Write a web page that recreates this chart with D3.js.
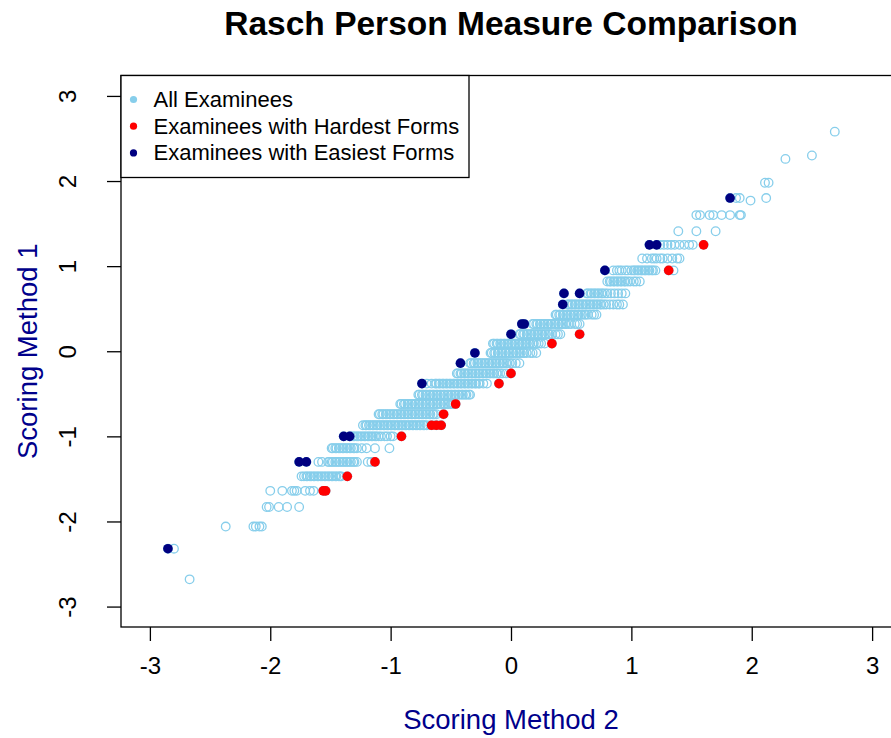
<!DOCTYPE html>
<html>
<head>
<meta charset="utf-8">
<script src="https://cdn.jsdelivr.net/npm/d3@7"></script>
<style>
  body { margin: 0; background: #fff; }
  text { font-family: "Liberation Sans", Arial, sans-serif; }
</style>
</head>
<body>
<div id="chart"></div>
<script>
// Scoring Method 1 level of each row of examinees (y)
const allLevels = [
  -2.68, -2.32, -2.06, -1.83, -1.64, -1.47, -1.30, -1.14, -1.00, -0.87,
  -0.74, -0.62, -0.51, -0.38, -0.26, -0.14, -0.02, 0.09, 0.20, 0.32,
  0.43, 0.55, 0.68, 0.82, 0.95, 1.09, 1.25, 1.41, 1.60, 1.77,
  1.80, 1.98, 2.26, 2.30, 2.58
];

// Scoring Method 2 values of the examinees on each row (x)
const allRowX = [
  [-2.67],
  [-2.85, -2.80],
  [-2.37, -2.14, -2.12, -2.09, -2.07],
  [-2.03, -2.01, -1.93, -1.86, -1.76],
  [-2.00, -1.90, -1.82, -1.80, -1.78, -1.71, -1.67, -1.64, -1.56, -1.54],
  [-1.74, -1.72, -1.70, -1.69, -1.67, -1.66, -1.64, -1.63, -1.61, -1.60, -1.58, -1.57, -1.55, -1.54, -1.52, -1.51, -1.49, -1.48, -1.46, -1.45, -1.43, -1.42, -1.41, -1.36],
  [-1.76, -1.70, -1.60, -1.57, -1.52, -1.51, -1.49, -1.48, -1.46, -1.45, -1.43, -1.42, -1.40, -1.39, -1.37, -1.36, -1.34, -1.33, -1.31, -1.30, -1.28, -1.19, -1.16, -1.13],
  [-1.49, -1.48, -1.46, -1.45, -1.43, -1.42, -1.40, -1.39, -1.37, -1.36, -1.34, -1.33, -1.31, -1.30, -1.28, -1.24, -1.20, -1.13, -1.01],
  [-1.39, -1.34, -1.33, -1.31, -1.30, -1.28, -1.27, -1.25, -1.24, -1.22, -1.21, -1.19, -1.18, -1.16, -1.15, -1.13, -1.12, -1.10, -1.08, -1.05, -1.03, -1.00, -0.98, -0.91],
  [-1.23, -1.21, -1.20, -1.18, -1.17, -1.15, -1.14, -1.12, -1.11, -1.09, -1.08, -1.06, -1.05, -1.03, -1.02, -1.00, -0.99, -0.97, -0.96, -0.94, -0.93, -0.91, -0.90, -0.88, -0.87, -0.85, -0.84, -0.82, -0.81, -0.79, -0.78, -0.76, -0.75, -0.73, -0.72, -0.70, -0.66, -0.62, -0.58],
  [-1.10, -1.09, -1.07, -1.06, -1.04, -1.03, -1.01, -1.00, -0.98, -0.97, -0.95, -0.94, -0.92, -0.91, -0.89, -0.88, -0.86, -0.85, -0.83, -0.82, -0.80, -0.79, -0.77, -0.76, -0.74, -0.73, -0.71, -0.70, -0.68, -0.67, -0.65, -0.64, -0.62, -0.56],
  [-0.92, -0.91, -0.89, -0.88, -0.86, -0.85, -0.83, -0.82, -0.80, -0.79, -0.77, -0.76, -0.74, -0.73, -0.71, -0.70, -0.68, -0.67, -0.65, -0.64, -0.62, -0.61, -0.59, -0.58, -0.56, -0.55, -0.53, -0.52, -0.50, -0.48, -0.46],
  [-0.77, -0.76, -0.74, -0.73, -0.71, -0.70, -0.68, -0.67, -0.65, -0.64, -0.62, -0.61, -0.59, -0.58, -0.56, -0.55, -0.53, -0.52, -0.50, -0.49, -0.47, -0.46, -0.44, -0.43, -0.41, -0.40, -0.38, -0.37, -0.35, -0.34],
  [-0.74, -0.70, -0.66, -0.63, -0.62, -0.60, -0.59, -0.57, -0.56, -0.54, -0.53, -0.51, -0.50, -0.48, -0.47, -0.45, -0.44, -0.42, -0.41, -0.39, -0.38, -0.36, -0.35, -0.33, -0.32, -0.30, -0.29, -0.27, -0.26, -0.23, -0.20, -0.10],
  [-0.45, -0.44, -0.42, -0.41, -0.39, -0.38, -0.36, -0.35, -0.33, -0.32, -0.30, -0.29, -0.27, -0.26, -0.24, -0.23, -0.21, -0.20, -0.18, -0.17, -0.15, -0.14, -0.12, -0.11, -0.09, -0.07, -0.04, 0.00],
  [-0.42, -0.34, -0.33, -0.31, -0.30, -0.28, -0.27, -0.25, -0.24, -0.22, -0.21, -0.19, -0.18, -0.16, -0.15, -0.13, -0.12, -0.10, -0.09, -0.07, -0.06, -0.04, -0.03, -0.01, 0.01, 0.04, 0.07],
  [-0.30, -0.17, -0.16, -0.14, -0.13, -0.11, -0.10, -0.08, -0.07, -0.05, -0.04, -0.02, -0.01, 0.01, 0.02, 0.04, 0.05, 0.07, 0.08, 0.10, 0.11, 0.13, 0.16, 0.18, 0.21],
  [-0.15, -0.14, -0.12, -0.11, -0.09, -0.08, -0.06, -0.05, -0.03, -0.02, 0.00, 0.01, 0.03, 0.04, 0.06, 0.07, 0.09, 0.10, 0.12, 0.13, 0.15, 0.16, 0.18, 0.19, 0.21, 0.23, 0.25, 0.28, 0.34],
  [0.00, 0.07, 0.08, 0.10, 0.11, 0.13, 0.14, 0.16, 0.17, 0.19, 0.20, 0.22, 0.23, 0.25, 0.26, 0.28, 0.29, 0.31, 0.32, 0.34, 0.37, 0.39, 0.41, 0.57],
  [0.09, 0.11, 0.18, 0.19, 0.21, 0.22, 0.24, 0.25, 0.27, 0.28, 0.30, 0.31, 0.33, 0.34, 0.36, 0.37, 0.39, 0.40, 0.42, 0.43, 0.45, 0.46, 0.48, 0.50, 0.53, 0.55, 0.57],
  [0.37, 0.38, 0.40, 0.41, 0.43, 0.44, 0.46, 0.47, 0.49, 0.50, 0.52, 0.53, 0.55, 0.56, 0.58, 0.59, 0.61, 0.62, 0.64, 0.67, 0.69, 0.71],
  [0.43, 0.47, 0.48, 0.50, 0.51, 0.53, 0.54, 0.56, 0.57, 0.59, 0.60, 0.62, 0.63, 0.65, 0.66, 0.68, 0.69, 0.71, 0.72, 0.74, 0.75, 0.77, 0.79, 0.82, 0.85, 0.88, 0.90, 0.93],
  [0.44, 0.57, 0.63, 0.64, 0.66, 0.67, 0.69, 0.70, 0.72, 0.73, 0.75, 0.76, 0.78, 0.80, 0.83, 0.86, 0.89, 0.92, 0.95],
  [0.80, 0.82, 0.83, 0.85, 0.86, 0.88, 0.89, 0.91, 0.92, 0.94, 0.95, 0.97, 0.99, 1.02, 1.04, 1.07],
  [0.78, 0.85, 0.88, 0.90, 0.92, 0.95, 0.97, 1.00, 1.02, 1.03, 1.05, 1.06, 1.08, 1.09, 1.11, 1.12, 1.14, 1.15, 1.17, 1.18, 1.20, 1.31, 1.35],
  [1.09, 1.13, 1.17, 1.19, 1.21, 1.24, 1.26, 1.30, 1.34, 1.38, 1.40],
  [1.15, 1.21, 1.24, 1.27, 1.30, 1.33, 1.36, 1.40, 1.44, 1.48, 1.51, 1.60],
  [1.39, 1.54, 1.70],
  [1.54, 1.57, 1.65, 1.68, 1.75, 1.82, 1.90, 1.91],
  [1.99],
  [1.82, 1.87, 1.90, 2.12],
  [2.11, 2.14],
  [2.28],
  [2.50],
  [2.69]
];

// Examinees with hardest forms
const hardX = [-1.56, -1.54, -1.36, -1.13, -0.91, -0.66, -0.62, -0.58, -0.56, -0.46, -0.10, 0.00, 0.34, 0.57, 1.31, 1.60];
const hardY = [-1.64, -1.64, -1.47, -1.30, -1.00, -0.87, -0.87, -0.87, -0.74, -0.62, -0.38, -0.26, 0.09, 0.20, 0.95, 1.25];

// Examinees with easiest forms
const easyX = [-2.85, -1.76, -1.70, -1.39, -1.34, -0.74, -0.42, -0.30, 0.00, 0.09, 0.11, 0.43, 0.44, 0.57, 0.78, 1.15, 1.21, 1.82];
const easyY = [-2.32, -1.30, -1.30, -1.00, -1.00, -0.38, -0.14, -0.02, 0.20, 0.32, 0.32, 0.55, 0.68, 0.68, 0.95, 1.25, 1.25, 1.80];

const tickValues = [-3, -2, -1, 0, 1, 2, 3];
const legendLabels = ["All Examinees", "Examinees with Hardest Forms", "Examinees with Easiest Forms"];
const legendColors = ["#87CEEB", "#FF0000", "#000080"];

const width = 891, height = 738;
const plot = { left: 121, right: 901, top: 75.5, bottom: 627 };

const svg = d3.select("#chart").append("svg")
    .attr("width", width)
    .attr("height", height);

// R style: limits -3..3 padded by 4%
const x = d3.scaleLinear().domain([-3.24, 3.24]).range([plot.left, plot.right]);
const y = d3.scaleLinear().domain([-3.24, 3.24]).range([plot.bottom, plot.top]);

// flatten rows into points
const allPoints = [];
allLevels.forEach((lv, i) => {
    allRowX[i].forEach(v => allPoints.push({ x: v, y: lv }));
});
const hardPoints = hardX.map((v, i) => ({ x: v, y: hardY[i] }));
const easyPoints = easyX.map((v, i) => ({ x: v, y: easyY[i] }));

svg.append("g").selectAll("circle")
    .data(allPoints)
    .enter().append("circle")
    .attr("cx", d => x(d.x))
    .attr("cy", d => y(d.y))
    .attr("r", 4.3)
    .attr("fill", "none")
    .attr("stroke", "#87CEEB")
    .attr("stroke-width", 1.3);

svg.append("g").selectAll("circle")
    .data(hardPoints)
    .enter().append("circle")
    .attr("cx", d => x(d.x))
    .attr("cy", d => y(d.y))
    .attr("r", 4.8)
    .attr("fill", "#FF0000");

svg.append("g").selectAll("circle")
    .data(easyPoints)
    .enter().append("circle")
    .attr("cx", d => x(d.x))
    .attr("cy", d => y(d.y))
    .attr("r", 4.8)
    .attr("fill", "#000080");

// box
svg.append("rect")
    .attr("x", plot.left)
    .attr("y", plot.top)
    .attr("width", plot.right - plot.left)
    .attr("height", plot.bottom - plot.top)
    .attr("fill", "none")
    .attr("stroke", "#000")
    .attr("stroke-width", 1.3);

// x axis
const gx = svg.append("g")
    .attr("transform", `translate(0,${plot.bottom})`)
    .call(d3.axisBottom(x).tickValues(tickValues).tickSize(14).tickPadding(16).tickFormat(d => String(d)));
gx.select(".domain").remove();
gx.selectAll("line").attr("stroke-width", 1.3);
gx.selectAll("text")
    .attr("font-size", "24px")
    .attr("fill", "#000")
    .style("font-family", "'Liberation Sans', Arial, sans-serif");

// y axis, labels parallel to axis
const gy = svg.append("g")
    .attr("transform", `translate(${plot.left},0)`)
    .call(d3.axisLeft(y).tickValues(tickValues).tickSize(14).tickFormat(d => String(d)));
gy.select(".domain").remove();
gy.selectAll("line").attr("stroke-width", 1.3);
gy.selectAll("text")
    .attr("x", null)
    .attr("dy", null)
    .attr("text-anchor", "middle")
    .attr("transform", "translate(-45,0) rotate(-90)")
    .attr("font-size", "24px")
    .attr("fill", "#000")
    .style("font-family", "'Liberation Sans', Arial, sans-serif");

// title
svg.append("text")
    .attr("x", (plot.left + plot.right) / 2)
    .attr("y", 35)
    .attr("text-anchor", "middle")
    .attr("font-size", "33.5px")
    .attr("font-weight", "bold")
    .text("Rasch Person Measure Comparison");

// axis titles
svg.append("text")
    .attr("x", (plot.left + plot.right) / 2)
    .attr("y", 729)
    .attr("text-anchor", "middle")
    .attr("font-size", "27.5px")
    .attr("fill", "#00008B")
    .text("Scoring Method 2");

svg.append("text")
    .attr("transform", `translate(37,${(plot.top + plot.bottom) / 2}) rotate(-90)`)
    .attr("text-anchor", "middle")
    .attr("font-size", "27.5px")
    .attr("fill", "#00008B")
    .text("Scoring Method 1");

// legend
const legend = svg.append("g");
legend.append("rect")
    .attr("x", plot.left)
    .attr("y", plot.top)
    .attr("width", 348)
    .attr("height", 102)
    .attr("fill", "#fff")
    .attr("stroke", "#000")
    .attr("stroke-width", 1.3);

const rows = legend.selectAll("g.item")
    .data(legendLabels)
    .enter().append("g")
    .attr("class", "item")
    .attr("transform", (d, i) => `translate(0,${107 + i * 26.7})`);

rows.append("circle")
    .attr("cx", 133.5)
    .attr("cy", -7.5)
    .attr("r", 3.6)
    .attr("fill", (d, i) => legendColors[i]);

rows.append("text")
    .attr("x", 153.5)
    .attr("y", 0)
    .attr("font-size", "22px")
    .attr("fill", "#000")
    .text(d => d);
</script>
</body>
</html>
